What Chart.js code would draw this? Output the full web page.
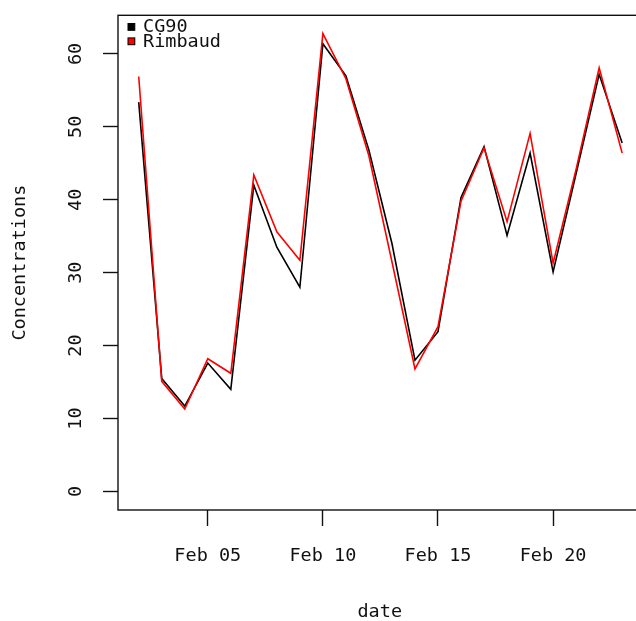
<!DOCTYPE html>
<html>
<head>
<meta charset="utf-8">
<title>Concentrations</title>
<script src="https://cdn.jsdelivr.net/npm/chart.js@4/dist/chart.umd.min.js"></script>
<style>
  html, body { margin: 0; padding: 0; background: #ffffff; }
  #wrap { width: 636px; height: 621px; overflow: hidden; position: relative; }
  canvas { display: block; }
</style>
</head>
<body>
<div id="wrap"><canvas id="chart" width="680" height="621" style="width:680px;height:621px"></canvas></div>
<script>
// Day of February for each observation
const days = [2, 3, 4, 5, 6, 7, 8, 9, 10, 11, 12, 13, 14, 15, 16, 17, 18, 19, 20, 21, 22, 23];

// Daily concentrations per site
const cg90 = [53.4, 15.5, 11.7, 17.6, 14.0, 42.0, 33.5, 28.0, 61.4, 57.0, 46.8,
              34.0, 18.0, 21.9, 40.3, 47.3, 35.1, 46.4, 30.1, 43.6, 57.2, 47.8];
const rimbaud = [56.9, 15.1, 11.3, 18.2, 16.2, 43.4, 35.6, 31.7, 62.8, 56.6, 46.0,
                 31.5, 16.8, 22.6, 39.8, 47.1, 37.0, 49.1, 31.3, 44.2, 58.1, 46.4];

// Axis ticks
const xTickDays = [5, 10, 15, 20];
const xTickLabels = ['Feb 05', 'Feb 10', 'Feb 15', 'Feb 20'];
const yTicks = [0, 10, 20, 30, 40, 50, 60];

const seriesNames = ['CG90', 'Rimbaud'];
const seriesColors = ['#000000', '#ff0000'];

const FONT = "'DejaVu Sans Mono', monospace";
const FONT_SIZE = 18.5;

const toPoints = (vals) => days.map((d, i) => ({ x: d, y: vals[i] }));

// Frame around the plotting region
const boxPlugin = {
  id: 'box',
  afterDraw(chart) {
    const { ctx, chartArea: a } = chart;
    ctx.save();
    ctx.strokeStyle = '#111';
    ctx.lineWidth = 1.4;
    ctx.strokeRect(a.left, a.top, a.right - a.left, a.bottom - a.top);
    ctx.restore();
  }
};

// Key in the top-left corner of the plot
const keyPlugin = {
  id: 'key',
  afterDraw(chart) {
    const { ctx, chartArea: a } = chart;
    ctx.save();
    ctx.font = FONT_SIZE + 'px ' + FONT;
    ctx.textBaseline = 'middle';
    ctx.textAlign = 'left';
    seriesNames.forEach((name, i) => {
      const cy = a.top + 11.5 + i * 14.4;
      ctx.fillStyle = seriesColors[i];
      ctx.fillRect(a.left + 10, cy - 3.3, 6.8, 6.8);
      ctx.strokeStyle = '#000';
      ctx.lineWidth = 1;
      ctx.strokeRect(a.left + 10, cy - 3.3, 6.8, 6.8);
      ctx.fillStyle = '#111';
      ctx.fillText(name, a.left + 25, cy + 0.8);
    });
    ctx.restore();
  }
};

new Chart(document.getElementById('chart'), {
  type: 'line',
  data: {
    datasets: [
      {
        label: seriesNames[0],
        data: toPoints(cg90),
        borderColor: seriesColors[0],
        borderWidth: 1.6,
        pointRadius: 0,
        tension: 0,
        fill: false,
        order: 2
      },
      {
        label: seriesNames[1],
        data: toPoints(rimbaud),
        borderColor: seriesColors[1],
        borderWidth: 1.6,
        pointRadius: 0,
        tension: 0,
        fill: false,
        order: 1
      }
    ]
  },
  options: {
    responsive: false,
    animation: false,
    devicePixelRatio: 1,
    layout: { padding: { left: 0, right: 38.5, top: 15.3, bottom: 0 } },
    plugins: {
      legend: { display: false },
      tooltip: { enabled: false }
    },
    scales: {
      x: {
        type: 'linear',
        min: 1.1,
        max: 23.84,
        afterBuildTicks(scale) { scale.ticks = xTickDays.map(v => ({ value: v })); },
        afterFit(scale) {
          scale.height = 111;
          scale.paddingLeft = 0;
          scale.paddingRight = 0;
        },
        ticks: {
          color: '#111',
          font: { family: FONT, size: FONT_SIZE },
          padding: 19,
          maxRotation: 0,
          autoSkip: false,
          callback(value) {
            const k = xTickDays.indexOf(value);
            return k >= 0 ? xTickLabels[k] : '';
          }
        },
        grid: {
          display: true,
          drawOnChartArea: false,
          drawTicks: true,
          tickLength: 16,
          tickWidth: 1.4,
          tickColor: '#111'
        },
        border: { display: false },
        title: {
          display: true,
          text: 'date',
          color: '#111',
          font: { family: FONT, size: FONT_SIZE },
          padding: { top: 0, bottom: -2.7 }
        }
      },
      y: {
        type: 'linear',
        min: -2.55,
        max: 65.3,
        afterBuildTicks(scale) { scale.ticks = yTicks.map(v => ({ value: v })); },
        afterFit(scale) {
          scale.width = 118;
          scale.paddingTop = 0;
          scale.paddingBottom = 0;
        },
        ticks: {
          color: '#111',
          font: { family: FONT, size: FONT_SIZE },
          padding: 15.2,
          minRotation: 90,
          maxRotation: 90,
          crossAlign: 'center',
          autoSkip: false
        },
        grid: {
          display: true,
          drawOnChartArea: false,
          drawTicks: true,
          tickLength: 15,
          tickWidth: 1.4,
          tickColor: '#111'
        },
        border: { display: false },
        title: {
          display: true,
          text: 'Concentrations',
          color: '#111',
          font: { family: FONT, size: FONT_SIZE },
          padding: { top: 9.4, bottom: 0 }
        }
      }
    }
  },
  plugins: [boxPlugin, keyPlugin]
});
</script>
</body>
</html>
